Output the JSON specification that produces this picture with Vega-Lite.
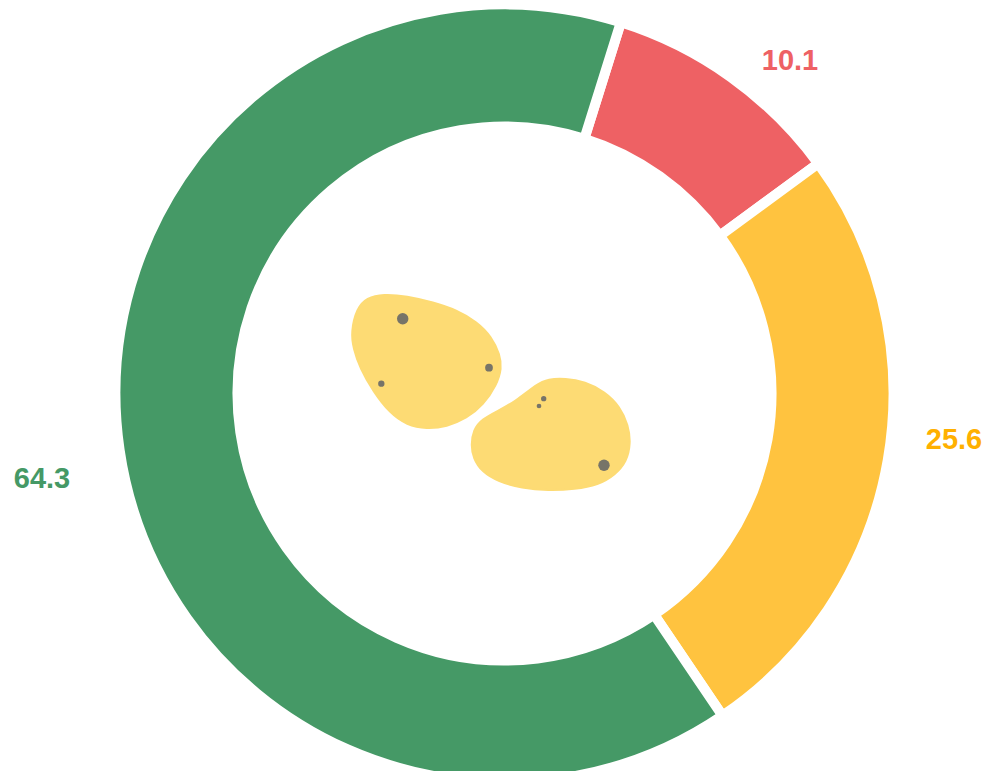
{"$schema":"https://vega.github.io/schema/vega-lite/v6.json","width":987,"height":771,"padding":0,"autosize":{"type":"none"},"background":"#ffffff","config":{"view":{"stroke":null}},
"datasets":{"shares":[{"name":"Red","share":10.1,"i":1,"lx":790,"ly":61},{"name":"Yellow","share":25.6,"i":2,"lx":954,"ly":440},{"name":"Green","share":64.3,"i":3,"lx":42,"ly":479}],
"blobs":[
{"b":1,"i":1,"x":351,"y":332},{"b":1,"i":2,"x":356.7,"y":308.3},{"b":1,"i":3,"x":366.7,"y":297.7},{"b":1,"i":4,"x":383.3,"y":294},{"b":1,"i":5,"x":406.7,"y":296},{"b":1,"i":6,"x":433.3,"y":302.3},{"b":1,"i":7,"x":456.7,"y":310},{"b":1,"i":8,"x":476.7,"y":321.7},{"b":1,"i":9,"x":491.7,"y":336.7},{"b":1,"i":10,"x":500,"y":355},{"b":1,"i":11,"x":501.7,"y":368.3},{"b":1,"i":12,"x":496.7,"y":385},{"b":1,"i":13,"x":483.3,"y":405},{"b":1,"i":14,"x":466.7,"y":418.3},{"b":1,"i":15,"x":446.7,"y":426.7},{"b":1,"i":16,"x":426.7,"y":429},{"b":1,"i":17,"x":406.7,"y":425},{"b":1,"i":18,"x":390,"y":413.3},{"b":1,"i":19,"x":373.3,"y":391.7},{"b":1,"i":20,"x":360,"y":368.3},{"b":1,"i":21,"x":353.3,"y":348.3},
{"b":2,"i":1,"x":471,"y":445},{"b":2,"i":2,"x":473.3,"y":430},{"b":2,"i":3,"x":481.7,"y":419.3},{"b":2,"i":4,"x":498.3,"y":410.7},{"b":2,"i":5,"x":515,"y":401.7},{"b":2,"i":6,"x":536.7,"y":384},{"b":2,"i":7,"x":548.3,"y":379},{"b":2,"i":8,"x":565,"y":378.3},{"b":2,"i":9,"x":585,"y":381.7},{"b":2,"i":10,"x":605,"y":391.7},{"b":2,"i":11,"x":620,"y":406.7},{"b":2,"i":12,"x":628.3,"y":425},{"b":2,"i":13,"x":630.7,"y":443.3},{"b":2,"i":14,"x":626.7,"y":461.7},{"b":2,"i":15,"x":615,"y":475},{"b":2,"i":16,"x":598.3,"y":485},{"b":2,"i":17,"x":575,"y":489.3},{"b":2,"i":18,"x":548.3,"y":490.7},{"b":2,"i":19,"x":521.7,"y":488.3},{"b":2,"i":20,"x":498.3,"y":481.7},{"b":2,"i":21,"x":481.7,"y":471.7},{"b":2,"i":22,"x":473.3,"y":458.3}],
"spots":[{"x":402.7,"y":318.7,"spot":130},{"x":489,"y":367.7,"spot":60},{"x":381.3,"y":383.7,"spot":40},{"x":604,"y":465.3,"spot":130},{"x":543.7,"y":398.7,"spot":28},{"x":539,"y":406,"spot":22}]},
"layer":[
{"data":{"name":"shares"},"mark":{"type":"arc","outerRadius":389,"innerRadius":267,"stroke":"#ffffff","strokeWidth":10},
"encoding":{"x":{"datum":504.5,"type":"quantitative","scale":{"domain":[0,987],"range":[0,987],"nice":false,"zero":false},"axis":null},"y":{"datum":393.5,"type":"quantitative","scale":{"domain":[0,771],"range":[0,771],"nice":false,"zero":false},"axis":null},
"theta":{"field":"share","type":"quantitative","stack":true,"scale":{"domain":[0,100],"range":[0.3037,6.5869]}},"order":{"field":"i","type":"ordinal"},
"color":{"field":"name","type":"nominal","legend":null,"scale":{"domain":["Red","Yellow","Green"],"range":["#EE6164","#FFC33F","#459966"]}}}},
{"data":{"name":"blobs"},"mark":{"type":"line","interpolate":"basis-closed","fill":"#FDDB74","stroke":"#FDDB74","strokeWidth":2},
"encoding":{"x":{"field":"x","type":"quantitative"},"y":{"field":"y","type":"quantitative"},"detail":{"field":"b","type":"nominal"},"order":{"field":"i","type":"quantitative"}}},
{"data":{"name":"spots"},"mark":{"type":"point","filled":true,"color":"#5F6166","opacity":0.85},
"encoding":{"x":{"field":"x","type":"quantitative"},"y":{"field":"y","type":"quantitative"},"size":{"field":"spot","type":"quantitative","legend":null,"scale":{"domain":[0,130],"range":[0,130]}}}},
{"data":{"name":"shares"},"mark":{"type":"text","font":"Liberation Sans","fontWeight":"bold","fontSize":29,"align":"center","baseline":"middle"},
"encoding":{"x":{"field":"lx","type":"quantitative"},"y":{"field":"ly","type":"quantitative"},"text":{"field":"share","type":"quantitative","format":".1f"},
"color":{"field":"name","type":"nominal","legend":null,"scale":{"domain":["Red","Yellow","Green"],"range":["#EE6164","#FFB000","#459966"]}}}}
],"resolve":{"scale":{"color":"independent"}}}
